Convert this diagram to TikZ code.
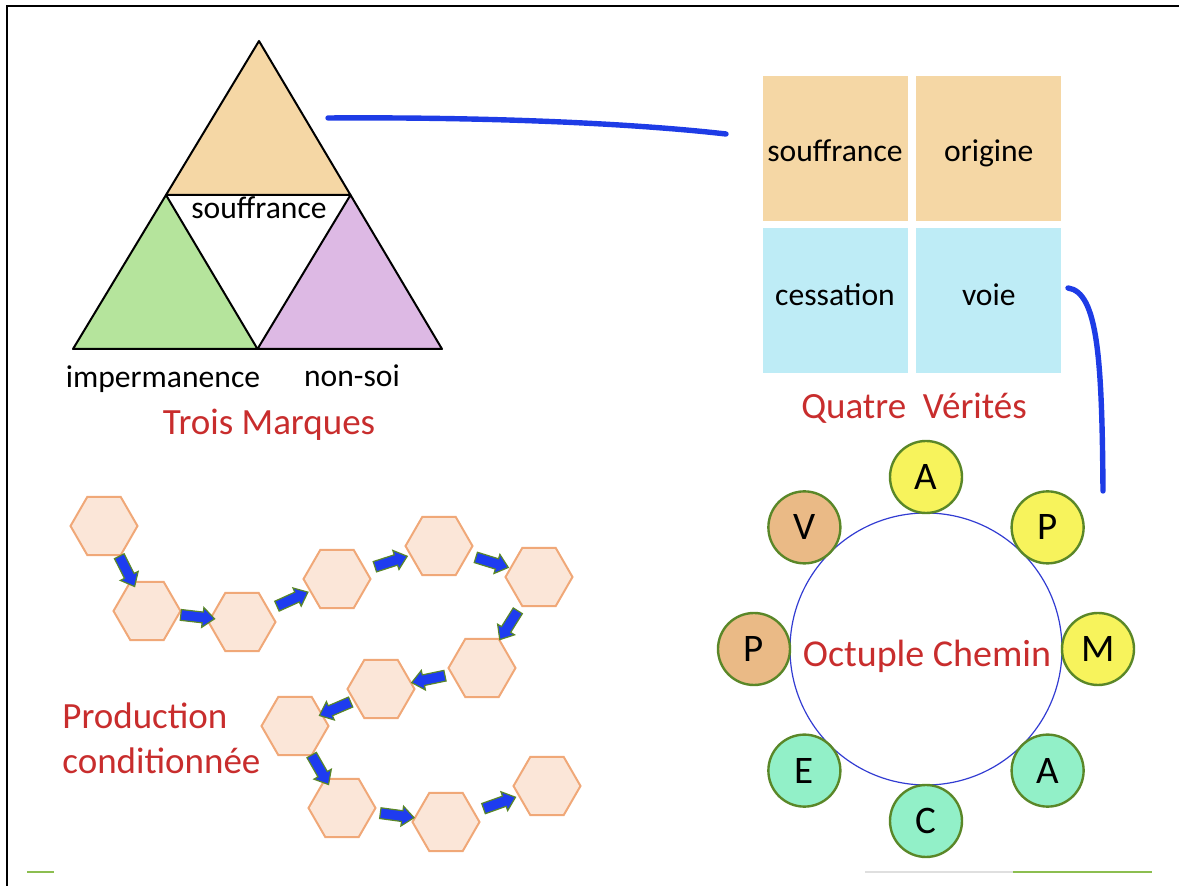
\documentclass[tikz,border=0pt]{standalone}
\usepackage{fontspec}
\setmainfont{Carlito}
\usetikzlibrary{positioning,shapes.geometric,shapes.arrows,calc}

\definecolor{peach}{RGB}{245,215,165}
\definecolor{leaf}{RGB}{181,228,156}
\definecolor{lilac}{RGB}{221,185,228}
\definecolor{sky}{RGB}{190,236,246}
\definecolor{titlered}{RGB}{200,45,45}
\definecolor{linkblue}{RGB}{30,60,230}
\definecolor{ringblue}{RGB}{50,60,210}
\definecolor{dotyellow}{RGB}{247,243,92}
\definecolor{dotorange}{RGB}{234,186,134}
\definecolor{dotteal}{RGB}{146,240,200}
\definecolor{dotrim}{RGB}{90,135,40}
\definecolor{hexfill}{RGB}{251,230,216}
\definecolor{hexrim}{RGB}{240,168,120}
\definecolor{arrowblue}{RGB}{30,60,240}
\definecolor{slidegreen}{RGB}{140,190,80}

\begin{document}
\begin{tikzpicture}[
      x=0.5pt, y=-0.5pt,
      edge/.style={draw=black, line width=1pt, line join=round},
      lbl/.style={font=\fontsize{15.8}{19}\selectfont, anchor=base, inner sep=0pt},
      title/.style={font=\fontsize{18.5}{22.5}\selectfont, text=titlered, anchor=base, inner sep=0pt},
      sqbox/.style={minimum width=72.5pt, minimum height=72.5pt, inner sep=0pt,
        text height=0.75em, text depth=0.25em, font=\fontsize{15.8}{19}\selectfont},
      link/.style={draw=linkblue, line width=2.7pt, line cap=round},
      dot/.style={circle, draw=dotrim, line width=1.2pt, minimum size=36pt, inner sep=0pt,
        font=\fontsize{19.5}{22}\selectfont},
      hexcell/.style={regular polygon, regular polygon sides=6, minimum size=33.5pt, inner sep=0pt,
        fill=hexfill, draw=hexrim, line width=1pt},
      flow/.style={single arrow, fill=arrowblue, draw=dotrim, line width=0.6pt, minimum height=17pt,
        inner sep=2.4pt, single arrow head extend=2.3pt, single arrow head indent=0pt,
        single arrow tip angle=80, sloped, allow upside down, midway}
    ]
    \useasboundingbox (0,0) rectangle (1179,886);
    \draw[line width=1pt] (7,886) -- (7,6) -- (1179,6);

    \coordinate (apex) at (259,41);
    \coordinate (bl) at (73,349);
    \coordinate (br) at (442,349);
    \coordinate (ml) at ($(apex)!0.5!(bl)$);
    \coordinate (mr) at ($(apex)!0.5!(br)$);
    \coordinate (mb) at ($(bl)!0.5!(br)$);
    \draw[edge, fill=peach] (apex) -- (mr) -- (ml) -- cycle;
    \draw[edge, fill=leaf] (ml) -- (mb) -- (bl) -- cycle;
    \draw[edge, fill=lilac] (mr) -- (br) -- (mb) -- cycle;
    \node[lbl] (tsouf) at (259,219) {souffrance};
    \node[lbl] (timper) at (163,388) {impermanence};
    \node[lbl] (tnonsoi) at (352,387) {non-soi};
    \node[title] (trois) at (269,435) {Trois Marques};

    \node[sqbox, fill=peach, text height=1.55em] (suff) at (835,148.5) {souffrance};
    \node[sqbox, fill=peach, text height=1.55em, right=4pt of suff] (orig) {origine};
    \node[sqbox, fill=sky, below=3pt of suff] (cess) {cessation};
    \node[sqbox, fill=sky, right=4pt of cess] (voie) {voie};
    \node[title] (quatre) at (914,419) {Quatre\ \ Vérités};

    \coordinate (l1a) at (328,118);
    \coordinate (l1b) at (726,134);
    \draw[link] (l1a) .. controls (470,117) and (620,122) .. (l1b);
    \coordinate (l2a) at (1068,288);
    \coordinate (l2b) at (1103,491);
    \draw[link] (l2a) .. controls (1098,292) and (1102,360) .. (l2b);

    \node[circle, draw=ringblue, line width=0.6pt, minimum size=136pt, inner sep=0pt] (ring) at (926,649) {};
    \node[title, font=\fontsize{19}{23}\selectfont] (octuple) at (927,667) {Octuple Chemin};
    \foreach \ang/\txt/\col [count=\i] in {-90/A/dotyellow, -45/P/dotyellow, 0/M/dotyellow,
        45/A/dotteal, 90/C/dotteal, 135/E/dotteal, 180/P/dotorange, -135/V/dotorange}
      \node[dot, fill=\col] (d\i) at ($(ring.center)+(\ang:172)$) {\txt};

    \foreach \x/\y [count=\i] in {104/526, 147/611, 242/622, 337/579, 439/546, 539/577,
        482/668, 381/689, 295/726, 342/808, 446/822, 547/786}
      \node[hexcell] (h\i) at (\x,\y) {};
    \foreach \a [evaluate=\a as \b using int(\a+1)] in {1,...,11}
      \path (h\a) -- (h\b) node[flow] {};
    \node[title, anchor=west, align=left] (prod) at (62,738) {Production\\conditionnée};

    \draw[gray!25, line width=0.8pt] (865,872) -- (1013,872);
    \draw[slidegreen, line width=1pt] (27,872) -- (54,872);
    \draw[slidegreen, line width=1pt] (1013,872) -- (1152,872);
  \end{tikzpicture}
\end{document}
